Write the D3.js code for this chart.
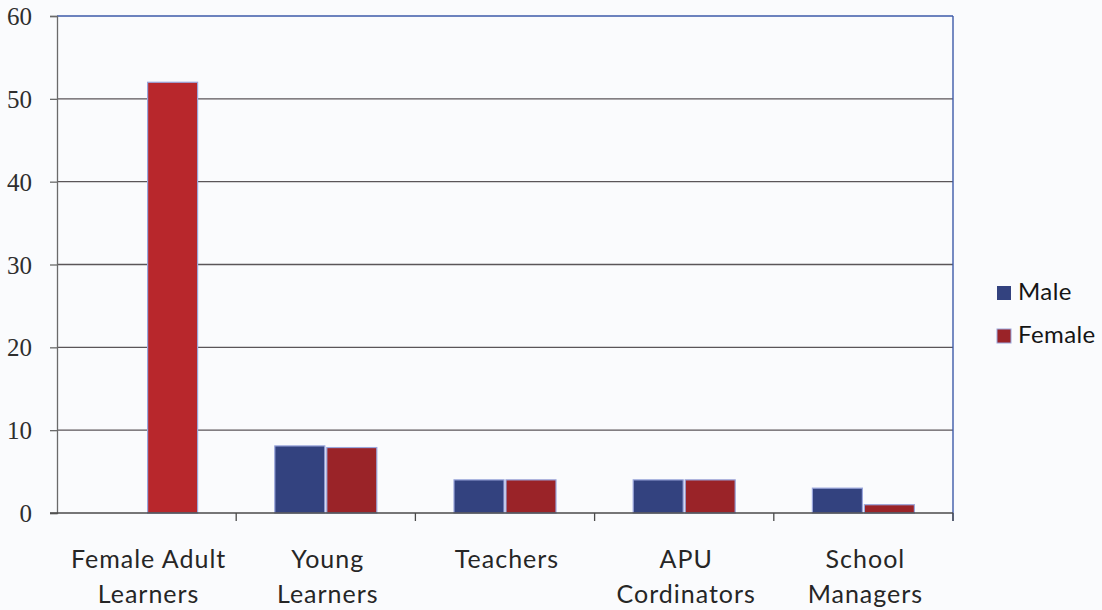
<!DOCTYPE html>
<html>
<head>
<meta charset="utf-8">
<script src="https://cdn.jsdelivr.net/npm/d3@7"></script>
<style>
  html, body { margin: 0; padding: 0; background: #fafbfd; }
  svg { display: block; }
</style>
</head>
<body>
<svg id="chart" width="1102" height="610"></svg>
<script>
// Participants by group and gender
const categories = [["Female Adult", "Learners"], ["Young", "Learners"], ["Teachers"], ["APU", "Cordinators"], ["School", "Managers"]];
const seriesNames = ["Male", "Female"];
const maleValues = [0, 8.1, 4, 4, 3];
const femaleValues = [52, 7.9, 4, 4, 1];
const yTicks = [0, 10, 20, 30, 40, 50, 60];

const colors = { Male: "#33427f", Female: "#9a2328" };
const firstFemale = "#b8272c";

const svg = d3.select("#chart");
const margin = { left: 57, right: 149, top: 16, bottom: 97 };
const W = 1102, H = 610;
const x0 = margin.left, x1 = W - margin.right;
const yTop = margin.top, yBot = H - margin.bottom;

const keys = categories.map((c, i) => i);
const x = d3.scaleBand().domain(keys).range([x0, x1]).paddingInner(0).paddingOuter(0);
const barW = 51;
const y = d3.scaleLinear().domain([0, 60]).range([yBot, yTop]);

// horizontal gridlines
svg.append("g").selectAll("line").data(yTicks.filter(t => t > 0 && t < 60)).join("line")
  .attr("x1", x0).attr("x2", x1)
  .attr("y1", d => y(d)).attr("y2", d => y(d))
  .attr("stroke", "#5a5558").attr("stroke-width", 1.3);

// top and right plot border
svg.append("line").attr("x1", x0).attr("x2", x1).attr("y1", y(60)).attr("y2", y(60))
  .attr("stroke", "#3d5aa8").attr("stroke-width", 1.6);
svg.append("line").attr("x1", x1).attr("x2", x1).attr("y1", y(60)).attr("y2", yBot + 8)
  .attr("stroke", "#3d5aa8").attr("stroke-width", 1.4);

// left axis
const yAxis = d3.axisLeft(y).tickValues(yTicks).tickSize(7).tickPadding(6).tickFormat(d3.format("d"));
const gy = svg.append("g").attr("transform", `translate(${x0},0)`).call(yAxis);
gy.select(".domain").attr("stroke", "#6a6a6a").attr("stroke-width", 1.3);
gy.selectAll(".tick line").attr("stroke", "#6a6a6a").attr("stroke-width", 1.3);
gy.selectAll(".tick text")
  .attr("font-family", "'Liberation Serif', 'DejaVu Serif', serif")
  .attr("font-size", 25).attr("fill", "#2e2e2e").attr("x", -25).attr("dy", "0.34em");

// bars
const groups = svg.append("g").selectAll("g").data(keys).join("g");
const bw = x.bandwidth();
groups.each(function(i) {
  const g = d3.select(this);
  const cx = x(i) + bw / 2;
  const vals = [maleValues[i], femaleValues[i]];
  vals.forEach((v, k) => {
    if (v <= 0) return;
    const name = seriesNames[k];
    g.append("rect")
      .attr("x", cx + (k === 0 ? -barW : 1))
      .attr("y", y(v))
      .attr("width", barW - 1)
      .attr("height", yBot - y(v))
      .attr("fill", (i === 0 && k === 1) ? firstFemale : colors[name])
      .attr("stroke", "#9aa6dc").attr("stroke-width", 1.2);
  });
});

// bottom axis
svg.append("line").attr("x1", x0 - 7).attr("x2", x1).attr("y1", yBot).attr("y2", yBot)
  .attr("stroke", "#4a4a4a").attr("stroke-width", 1.5);
const tickXs = keys.map(i => x(i)).concat([x1]);
svg.append("g").selectAll("line").data(tickXs.slice(1)).join("line")
  .attr("x1", d => d).attr("x2", d => d).attr("y1", yBot).attr("y2", yBot + 8)
  .attr("stroke", "#4a4a4a").attr("stroke-width", 1.3);

// category labels
const labels = svg.append("g").selectAll("text").data(keys).join("text")
  .attr("text-anchor", "middle")
  .attr("font-family", "Lato, 'Open Sans', sans-serif")
  .attr("font-size", 25).attr("letter-spacing", 1).attr("fill", "#262626");
labels.each(function(i) {
  const t = d3.select(this);
  const cx = x(i) + bw / 2 + 2;
  categories[i].forEach((line, j) => {
    t.append("tspan").attr("x", cx).attr("y", 568 + j * 35).text(line);
  });
});

// legend
const legend = svg.append("g").selectAll("g").data(seriesNames).join("g")
  .attr("transform", (d, i) => `translate(997,${286 + i * 43})`);
legend.append("rect").attr("width", 14).attr("height", 14)
  .attr("fill", d => colors[d]).attr("stroke", d => d === "Female" ? "#9aa6dc" : "none");
legend.append("text").attr("x", 21).attr("y", 14)
  .attr("font-family", "Lato, 'Open Sans', sans-serif")
  .attr("font-size", 24).attr("letter-spacing", 0.4).attr("fill", "#151515").text(d => d);
</script>
</body>
</html>
